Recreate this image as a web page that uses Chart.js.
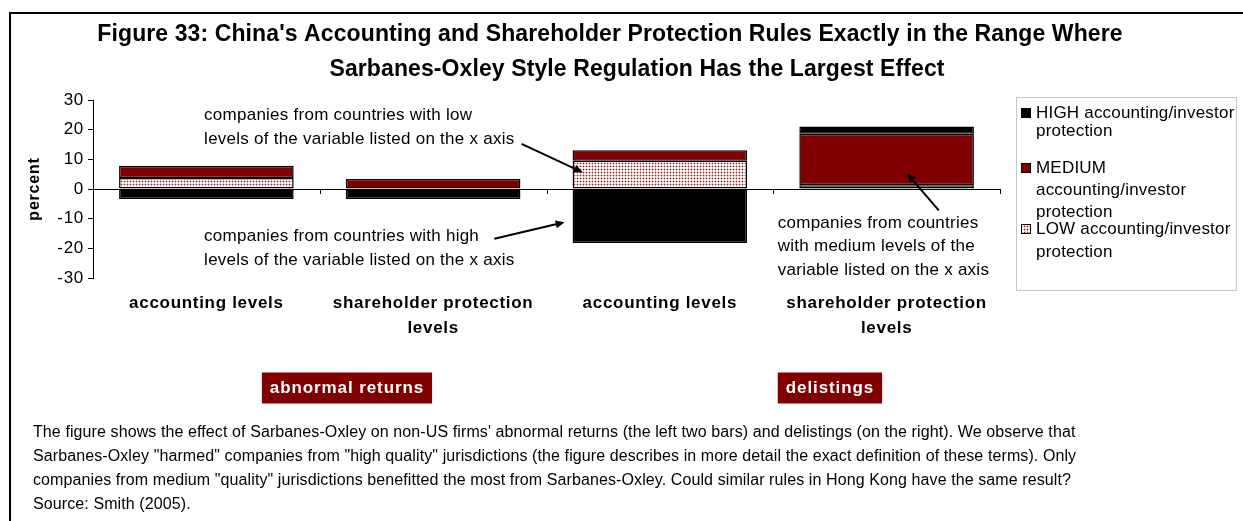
<!DOCTYPE html>
<html>
<head>
<meta charset="utf-8">
<script src="https://cdn.jsdelivr.net/npm/chart.js@4.4.0/dist/chart.umd.min.js"></script>
<style>
  html, body { margin: 0; padding: 0; background: #fff; }
  #wrap { width: 1243px; height: 521px; }
</style>
</head>
<body>
<div id="wrap"><canvas id="chart" width="1243" height="521"></canvas></div>
<script>
// data
const categories = [
  ["accounting levels"],
  ["shareholder protection", "levels"],
  ["accounting levels"],
  ["shareholder protection", "levels"],
];
const lowValues = [3.7, 0, 9.5, 1.3];
const mediumValues = [4.1, 3.4, 3.6, 17.3];
const highValues = [-3.4, -3.4, -18.2, 2.5];
const yMin = -30;
const yMax = 30;
const yStep = 10;

const titleLines = [
  "Figure 33: China's Accounting and Shareholder Protection Rules Exactly in the Range Where",
  "Sarbanes-Oxley Style Regulation Has the Largest Effect",
];
const legendEntries = [
  ["HIGH accounting/investor", "protection"],
  ["MEDIUM", "accounting/investor", "protection"],
  ["LOW accounting/investor", "protection"],
];
const groupLabels = ["abnormal returns", "delistings"];
const noteLines = [
  "The figure shows the effect of Sarbanes-Oxley on non-US firms' abnormal returns (the left two bars) and delistings (on the right). We observe that",
  "Sarbanes-Oxley \"harmed\" companies from \"high quality\" jurisdictions (the figure describes in more detail the exact definition of these terms). Only",
  "companies from medium \"quality\" jurisdictions benefitted the most from Sarbanes-Oxley. Could similar rules in Hong Kong have the same result?",
  "Source: Smith (2005).",
];

const FONT = "'Liberation Sans', Arial, sans-serif";
const DARK_RED = "#800000";

// dotted fill for the LOW series
const makeDots = () => {
  const c = document.createElement("canvas");
  c.width = 3;
  c.height = 3;
  const g = c.getContext("2d");
  g.fillStyle = "#ffffff";
  g.fillRect(0, 0, 3, 3);
  g.fillStyle = "#e8b8b8";
  g.fillRect(0, 1, 3, 1);
  g.fillRect(1, 0, 1, 3);
  g.fillStyle = "#9a1818";
  g.fillRect(1, 1, 1, 1);
  return g.createPattern(c, "repeat");
};
const dots = makeDots();

// annotation text + arrows, positioned in data space (category index, value)
const notes = [
  { x: -0.01, y: [24.7, 16.6], text: ["companies from countries with low", "levels of the variable listed on the x axis"],
    from: [1.39, 15.2], to: [1.66, 5.6] },
  { x: -0.01, y: [-15.9, -24.0], text: ["companies from countries with high", "levels of the variable listed on the x axis"],
    from: [1.27, -16.8], to: [1.58, -11.2] },
  { x: 2.52, y: [-11.6, -19.4, -27.4], text: ["companies from countries", "with medium levels of the", "variable listed on the x axis"],
    from: [3.23, -7.2], to: [3.09, 5.2] },
];
const groupBoxes = [
  { x: 0.62, label: groupLabels[0] },
  { x: 2.75, label: groupLabels[1] },
];

const arrow = (ctx, x1, y1, x2, y2) => {
  ctx.save();
  ctx.strokeStyle = "#000";
  ctx.fillStyle = "#000";
  ctx.lineWidth = 2;
  const a = Math.atan2(y2 - y1, x2 - x1);
  const hx = x2 - 9 * Math.cos(a);
  const hy = y2 - 9 * Math.sin(a);
  ctx.beginPath();
  ctx.moveTo(x1, y1);
  ctx.lineTo(hx, hy);
  ctx.stroke();
  ctx.beginPath();
  ctx.moveTo(x2, y2);
  ctx.lineTo(hx + 4 * Math.sin(a), hy - 4 * Math.cos(a));
  ctx.lineTo(hx - 4 * Math.sin(a), hy + 4 * Math.cos(a));
  ctx.closePath();
  ctx.fill();
  ctx.restore();
};

const decorations = {
  id: "decorations",
  beforeDraw(chart) {
    // the source figure's text is loosely spaced; axis labels pick this up
    chart.ctx.letterSpacing = "0.7px";
  },
  afterDraw(chart) {
    const ctx = chart.ctx;
    const xs = chart.scales.x;
    const ys = chart.scales.y;
    const area = chart.chartArea;
    ctx.save();

    // outer frame (top and left)
    ctx.strokeStyle = "#000";
    ctx.lineWidth = 2;
    ctx.beginPath();
    ctx.moveTo(1243, 13);
    ctx.lineTo(10, 13);
    ctx.lineTo(10, 521);
    ctx.stroke();

    // title
    ctx.fillStyle = "#000";
    ctx.textAlign = "center";
    ctx.textBaseline = "middle";
    ctx.letterSpacing = "0.1px";
    ctx.font = "bold 23px " + FONT;
    ctx.fillText(titleLines[0], 610, 35);
    ctx.fillText(titleLines[1], 637, 70);

    // category boundary ticks on the zero line
    const zero = ys.getPixelForValue(0);
    const step = xs.getPixelForValue(1) - xs.getPixelForValue(0);
    ctx.lineWidth = 1;
    ctx.beginPath();
    for (let i = 0; i < categories.length; i++) {
      const tx = Math.round(xs.getPixelForValue(i) + step / 2) + 0.5;
      ctx.moveTo(tx, zero);
      ctx.lineTo(tx, zero + 5);
    }
    ctx.stroke();

    // y axis title
    ctx.save();
    ctx.translate(35, (area.top + area.bottom) / 2);
    ctx.rotate(-Math.PI / 2);
    ctx.letterSpacing = "0.8px";
    ctx.font = "bold 16px " + FONT;
    ctx.fillText("percent", 0, 0);
    ctx.restore();

    // annotations
    ctx.font = "17px " + FONT;
    ctx.letterSpacing = "0.25px";
    ctx.textAlign = "left";
    notes.forEach((n) => {
      const px = xs.getPixelForValue(0) + n.x * step;
      n.text.forEach((t, k) => ctx.fillText(t, px, ys.getPixelForValue(n.y[k])));
      arrow(
        ctx,
        xs.getPixelForValue(0) + n.from[0] * step, ys.getPixelForValue(n.from[1]),
        xs.getPixelForValue(0) + n.to[0] * step, ys.getPixelForValue(n.to[1])
      );
    });

    // group label boxes
    ctx.font = "bold 17px " + FONT;
    ctx.letterSpacing = "0.9px";
    ctx.textAlign = "center";
    groupBoxes.forEach((g) => {
      const cx = xs.getPixelForValue(0) + g.x * step;
      const w = ctx.measureText(g.label).width + 16;
      ctx.fillStyle = DARK_RED;
      ctx.fillRect(cx - w / 2, 372.5, w, 31);
      ctx.fillStyle = "#fff";
      ctx.fillText(g.label, cx, 388);
    });

    // legend
    ctx.strokeStyle = "#c8c8c8";
    ctx.lineWidth = 1;
    ctx.strokeRect(1016.5, 97.5, 220, 193);
    const order = [2, 1, 0];
    const rowY = [[113, 131], [168, 190, 212], [229, 252]];
    ctx.font = "17px " + FONT;
    ctx.letterSpacing = "0.2px";
    ctx.textAlign = "left";
    order.forEach((di, k) => {
      const ds = chart.data.datasets[di];
      ctx.fillStyle = ds.backgroundColor;
      ctx.fillRect(1021, rowY[k][0] - 5, 10, 10);
      ctx.strokeStyle = "#000";
      ctx.strokeRect(1021.5, rowY[k][0] - 4.5, 9, 9);
      ctx.fillStyle = "#000";
      legendEntries[k].forEach((t, j) => ctx.fillText(t, 1036, rowY[k][j]));
    });

    // note below the chart
    ctx.font = "16px " + FONT;
    ctx.letterSpacing = "0.1px";
    noteLines.forEach((t, k) => ctx.fillText(t, 33, 433 + k * 24));

    ctx.restore();
  },
};

const mkSet = (label, values, color) => ({
  label,
  data: values,
  backgroundColor: color,
  borderColor: "#000",
  borderWidth: 1.5,
  borderSkipped: false,
  barPercentage: 0.77,
  categoryPercentage: 1,
});

new Chart(document.getElementById("chart"), {
  type: "bar",
  data: {
    labels: categories,
    datasets: [
      mkSet("LOW accounting/investor protection", lowValues, dots),
      mkSet("MEDIUM accounting/investor protection", mediumValues, DARK_RED),
      mkSet("HIGH accounting/investor protection", highValues, "#000000"),
    ],
  },
  options: {
    responsive: false,
    animation: false,
    layout: { padding: { top: 100, right: 243, bottom: 163, left: 0 } },
    plugins: {
      legend: { display: false },
      title: { display: false },
      tooltip: { enabled: false },
    },
    scales: {
      x: {
        stacked: true,
        grid: { display: false },
        border: { display: false },
        ticks: {
          color: "#000",
          font: { family: FONT, size: 17, weight: "bold", lineHeight: 1.47 },
          padding: 5,
          maxRotation: 0,
          autoSkip: false,
        },
        afterFit: (s) => { s.height = 80; },
      },
      y: {
        stacked: true,
        min: yMin,
        max: yMax,
        grid: {
          color: (c) => (c.tick && c.tick.value === 0 ? "#000" : "rgba(0,0,0,0)"),
          tickColor: "#000",
          tickLength: 5,
          lineWidth: 1,
        },
        border: { display: true, color: "#000", width: 1 },
        ticks: {
          stepSize: yStep,
          color: "#000",
          font: { family: FONT, size: 17 },
          padding: 4,
        },
        afterFit: (s) => { s.width = 93; },
      },
    },
  },
  plugins: [decorations],
});
</script>
</body>
</html>
